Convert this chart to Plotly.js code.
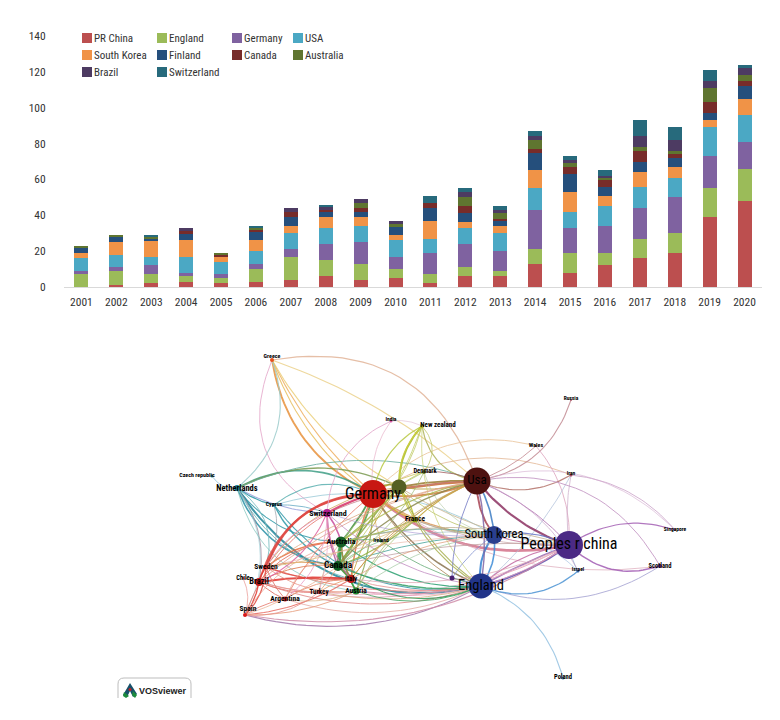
<!DOCTYPE html>
<html>
<head>
<meta charset="utf-8">
<script src="https://cdn.plot.ly/plotly-3.0.1.min.js"></script>
<style>html,body{margin:0;padding:0;background:#fff}#chart{width:780px;height:720px}</style>
</head>
<body>
<div id="chart"></div>
<script>
// ---------- bar chart data ----------
const years = ["2001","2002","2003","2004","2005","2006","2007","2008","2009","2010","2011","2012","2013","2014","2015","2016","2017","2018","2019","2020"];
const prChina     = [0,1,2,3,2,3,4,6,4,5,2,6,6,13,8,12,16,19,39,48];
const england     = [7,8,5,3,3,7,13,9,9,5,5,5,3,8,11,7,11,11,16,18];
const germany     = [2,2,5,2,2,3,4,9,12,7,12,13,11,22,14,15,17,20,18,15];
const usa         = [7,7,5,9,7,7,9,9,9,9,8,9,10,12,9,11,12,11,16,15];
const southKorea  = [3,7,9,9,3,6,4,6,5,3,10,3,4,10,11,6,8,6,4,9];
const finland     = [3,3,1,4,0,5,5,3,3,5,7,5,3,10,10,5,6,5,4,7];
const canada      = [0,0,0,1,1,1,3,1,2,0,3,4,1,2,4,4,6,2,6,3];
const australia   = [1,1,1,0,1,1,0,0,3,1,0,5,3,5,2,1,2,2,8,3];
const brazil      = [0,0,0,2,0,0,2,2,2,2,0,3,2,2,2,1,6,6,4,4];
const switzerland = [0,0,1,0,0,1,0,1,0,0,4,2,2,3,2,3,9,7,6,2];
const seriesNames = ["PR China","England","Germany","USA","South Korea","Finland","Canada","Australia","Brazil","Switzerland"];
const seriesValues = [prChina,england,germany,usa,southKorea,finland,canada,australia,brazil,switzerland];
const seriesColors = ["#BC4F4F","#9BBB59","#7F62A0","#4BA8C4","#F09347","#254F7C","#772C2A","#5F7530","#4D3B62","#276A7C"];

// ---------- legend placement (row-wise, four unequal columns) ----------
const legendSwatchX = [82,157,232,293,82,157,232,293,82,157];
const legendRowY = [38,38,38,38,55,55,55,55,72,72];

// ---------- network data ----------
const nodeNames = ["Greece","India","New zealand","Denmark","Czech republic","Netherlands","Cyprus","Switzerland","Germany","","France","Usa","South korea","Peoples r china","England","Russia","Wales","Iran","Singapore","Scotland","Israel","","Poland","Australia","Ireland","Canada","Italy","Austria","Sweden","Chile","Brazil","Argentina","Turkey","Spain"];
const nodeKeys  = ["GR","IN","NZ","DK","CZ","NL","CY","CH","DE","OL","FR","US","KR","CN","EN","RU","WA","IR","SG","SC","IL","SM","PL","AU","IE","CA","IT","AT","SE","CL","BR","AR","TR","ES"];
const nodeX     = [272,391,422,424,212,237,274,327,373,399,415,477,494,569,481,571,536,571,675,660,578,452,563,341,381,338,351,356,266,243,259,285,319,245];
const nodeY     = [360,421,426,472,476,488,505,513,494,487,520,481,535,545,586,400,446,475,530,566,571,578,678,542,541,566,579,591,567,578,582,599,592,615];
const nodeSize  = [4,3,4,4,3,6,4,8,28,15,5,27,18,28,25,2,2,3,2,4,3,5,3,11,3,10,8,7,5,2,8,5,4,4];
const nodeColor = ["#e8501a","#d85aa8","#a8b020","#6a7a20","#3a9aa5","#1a7f95","#2a8fa0","#b01f8f","#c81812","#545f22","#8a9a10","#4e1210","#2a3f8f","#4b2a85","#22358a","#b06070","#a05060","#a04a60","#8a50a0","#6a2a90","#3060a0","#4b2070","#4080c0","#145f25","#2a8a40","#0f5a22","#c01818","#208a30","#d82020","#d03030","#c01818","#d02020","#c83030","#d81818"];
const labelX    = [272,391,438,425,197,237,274,328,373,null,415,477,494,569,481,571,536,571,675,660,578,null,563,341,381,338,351,356,266,243,259,285,319,248];
const labelY    = [356,420,425,471,475,489,504,514,495,null,519,481,535,545,586,399,445,474,530,566,570,null,677,542,541,566,579,591,567,578,582,599,592,609];
const labelSize = [6,5.5,7,6.5,6,8.5,6,8,16,0,7.5,13,12.5,16,14.5,5.5,6,5.5,5.5,6.5,5.5,0,6.5,8,5.5,9.5,7,7.5,7.5,6.5,8.5,7.5,7,7.5];
const labelWeight = [700,700,700,700,700,700,700,700,400,400,700,400,400,400,400,700,700,700,700,700,700,400,700,700,700,700,700,700,700,700,700,700,700,700];

// edges: from, to, bend, colour, width
const edges = [
["GR","US",.42,"#e2b498",1.2],["GR","DE",-.26,"#e8913a",1.9],["GR","DE",-.1,"#efb060",1.1],["GR","OL",-.14,"#ecd07a",1.1],["GR","US",.1,"#ecd28c",1.1],["GR","FR",-.2,"#e8c060",1.1],["GR","CH",-.45,"#e6aacc",1],["GR","NL",.35,"#9ccccc",1.1],
["NL","DE",.3,"#3f9e86",1.7],["NL","OL",.24,"#7a9a50",1.4],["NL","US",.2,"#6ab0a0",1],["NL","CH",-.12,"#9aa0dc",1.1],["NL","CZ",.3,"#9cc8de",1],["NL","CY",-.1,"#2a9aa8",1.2],["NL","AU",-.24,"#2f9aa8",1.1],["NL","CA",-.3,"#2a92a8",1.6],["NL","EN",-.34,"#20869a",2],["NL","BR",.22,"#ac96a6",1.1],["NL","SE",.35,"#78bcc0",1],["NL","IT",-.22,"#4aa8a8",.8],["NL","ES",.3,"#a0d0d8",.8],["NL","AT",-.34,"#7ac0b8",.8],
["CY","DE",.3,"#5ab0b0",1.1],["CY","CA",-.18,"#2d9aa8",1.4],["CY","EN",-.3,"#3098a8",1.1],["CY","SE",.2,"#a0a8b0",.9],["CY","CH",.1,"#70b0c8",1],["CY","KR",.22,"#88c0d0",.8],
["DE","SE",-.34,"#dc3a34",2.3],["DE","BR",-.36,"#e04a44",1.8],["DE","ES",-.25,"#e87a72",1],["DE","CH",-.06,"#d83a70",2.2],["DE","IT",-.08,"#e86a40",1.4],["DE","CA",.12,"#50a048",1.8],["DE","AU",.05,"#3d8e40",1.8],["DE","AT",.1,"#8aa850",1.2],["DE","AR",-.1,"#ec8070",1],["DE","TR",.1,"#e8a070",.9],["DE","CN",-.25,"#d4728a",2.8],["DE","US",.04,"#c86a30",2.6],["DE","US",-.14,"#d07a38",1.9],["DE","KR",-.16,"#d89a58",1.2],["DE","EN",-.16,"#8a7450",1.5],["DE","WA",.3,"#ecc8a0",1],["DE","IR",.26,"#e6bc9c",1],["DE","SC",-.2,"#dca6b8",.8],["DE","NZ",.24,"#b8c840",1.2],["DE","DK",.1,"#d0c860",1],["DE","FR",-.1,"#d8b020",1.2],["DE","IE",-.1,"#e0b070",.9],["DE","OL",.4,"#a09020",1.4],
["OL","NZ",.2,"#a8bc20",2],["OL","US",.06,"#9a7a30",1.8],["OL","US",-.12,"#b8a040",1.1],["OL","DK",.1,"#c0c850",.9],["OL","FR",.12,"#b8c020",1.2],["OL","KR",-.15,"#c0c870",1],["OL","EN",-.14,"#a8b050",1.1],["OL","CA",-.05,"#90a840",1.4],["OL","AU",.05,"#98b040",1.2],["OL","IT",-.1,"#c8a840",1],["OL","CN",-.12,"#c8b088",.9],["OL","SE",-.22,"#d0a050",.9],
["NZ","US",-.35,"#b0b45c",1.2],["NZ","FR",-.4,"#d0d040",1.1],["NZ","DK",.4,"#c0c868",.9],["NZ","AU",.18,"#c0c860",.9],["NZ","EN",-.22,"#c8d070",.8],["NZ","CA",.1,"#b8c850",.8],
["IN","CH",-.3,"#e4a8cc",1],["IN","NZ",.15,"#e0b8d0",.7],["IN","DE",-.2,"#e8b0c8",.8],
["DK","US",.12,"#a05858",.9],["DK","AU",-.12,"#b0c878",.9],["DK","CA",.15,"#a0c078",.9],["DK","KR",-.3,"#b0c8a0",.7],
["RU","US",.3,"#c28a92",1.1],["WA","US",.1,"#c89098",1],["WA","CN",.2,"#e0aac2",1],["IR","US",.25,"#b4736a",1.2],["IR","EN",.1,"#b4c4dc",.9],["IR","SG",.2,"#cea8cc",1],["IR","CN",-.08,"#caa8c8",.8],["US","SC",.35,"#c496c4",1],["US","SG",.3,"#d4acd0",.7],
["CN","SG",.25,"#a460b4",1.2],["CN","SC",-.3,"#a25cb4",1.5],["CN","IL",-.1,"#90b8d8",.9],["EN","SC",-.25,"#a8a6d4",1],["EN","IL",-.3,"#4c94d4",1.3],["EN","PL",.25,"#94c2e2",1.1],["EN","CN",-.1,"#5a50b0",2.2],["EN","CN",.04,"#9264b4",1.5],["EN","CN",.16,"#c46aa2",1.2],["EN","KR",.22,"#3482d2",2],["EN","KR",-.2,"#3e8cd8",1.6],["US","KR",-.18,"#a84454",1.9],["US","KR",.12,"#3c7cc4",1.6],["US","CN",-.15,"#8c3262",2.1],["US","CN",.12,"#b476b4",1],["US","EN",.1,"#8064a4",1.4],["US","IL",.2,"#c8a0c8",.8],["KR","CN",.16,"#6474c4",1.2],["KR","CN",-.1,"#c4749c",1.1],["KR","IL",.2,"#9abce0",.7],
["SM","EN",.04,"#5060b0",.9],["SM","US",.12,"#7a80c8",1],["SM","DE",.12,"#a88050",.9],["SM","KR",.1,"#8090d0",.9],
["ES","EN",-.2,"#a47aac",1.2],["ES","CN",-.2,"#d08ca8",1.1],["BR","EN",-.18,"#e08a8a",1],["BR","CN",-.2,"#e8a0b4",1],["IT","EN",-.12,"#e89898",1],["AT","CN",-.2,"#e8a0c0",.9],["AT","EN",-.08,"#d890a8",1],["AR","EN",-.2,"#e4a8a0",.9],["SE","EN",-.12,"#e88880",1],["TR","EN",-.12,"#d8a880",.9],["TR","CN",-.15,"#e8b0c0",.8],
["CA","EN",-.14,"#35a068",1.5],["CA","EN",-.3,"#2f9a5a",1.1],["AT","EN",-.2,"#48a868",1],["AU","EN",-.2,"#2aa070",1.2],["AT","US",.2,"#a8bc70",.9],["CA","US",.16,"#8a8a50",1.3],["AU","US",.12,"#b0b850",1.1],["CA","KR",.08,"#50a8a0",1],["AU","KR",.12,"#60b0a8",1],["AU","CN",.14,"#c0b090",.9],["CA","CN",.08,"#c0a0a0",.9],["IE","EN",-.1,"#60a870",.9],["IE","US",.1,"#c0a060",.8],["IE","KR",.1,"#90b8c0",.7],
["AU","CA",.05,"#1e8a36",3.5],["AU","CA",-.14,"#4aa858",1.4],["AU","AT",-.12,"#38a048",1.4],["CA","AT",.1,"#32a040",1.6],["CA","IT",.05,"#708840",1.4],["AU","IT",-.12,"#c08040",1.1],["AU","IE",.1,"#60b070",.9],["CA","IE",.1,"#70b878",.8],
["BR","ES",.12,"#e03830",1.3],["SE","ES",.2,"#e04a40",1.3],["BR","SE",.1,"#e03830",1.2],["BR","IT",.06,"#e0322c",2],["SE","IT",-.12,"#e05048",1.4],["SE","AU",.18,"#e86a3a",1.4],["SE","CA",.12,"#d8883a",1],["AR","ES",-.1,"#e88074",1],["AR","SE",.1,"#e07a70",1],["AR","BR",.1,"#e06a60",1],["AR","IT",.14,"#e89070",1],["TR","BR",.12,"#e4706a",1],["TR","IT",.1,"#e8a070",1],["ES","IT",-.12,"#e86a60",1.1],["ES","CA",-.08,"#e8a888",.8],["ES","AT",-.12,"#e8a080",1],["CL","BR",.1,"#e88080",.8],["CL","ES",.2,"#e8908c",.8],["AR","AT",-.15,"#d8b080",.8],["TR","AU",.15,"#d0b080",.8],["AR","AU",.2,"#e8b098",.8],
["ES","TR",-.2,"#e89088",.9],["SE","AT",-.2,"#e89080",.9],["BR","AT",-.1,"#e89a88",.9],["BR","CA",.16,"#e07a50",1],["BR","AU",.24,"#e87060",1],["ES","AU",.2,"#ec9a88",.8],
["CH","BR",.2,"#e060a0",1.1],["CH","CA",-.1,"#b05a9c",1.5],["CH","AU",.1,"#c84a9c",1.5],["CH","IT",-.18,"#e06aa0",1.1],["CH","AR",.25,"#ea9ac4",.9],["CH","SE",-.15,"#e880b8",.9],["CH","US",.1,"#c47884",.9],["CH","EN",-.16,"#c088c0",.9],["CH","TR",.1,"#e8a0c8",.7],["CH","KR",-.1,"#b0a0d8",.8],
["FR","US",.1,"#c0a030",1.1],["FR","EN",-.14,"#a8b050",1.1],["FR","CA",.1,"#90b040",1.2],["FR","AU",.05,"#a8b850",1.1],["FR","IT",-.1,"#d0a840",1],["FR","KR",-.1,"#a0b880",.9],["FR","SE",.1,"#e0c080",.9],["FR","CN",-.1,"#c8a0a0",.8],["FR","AT",-.1,"#a8c070",.8],
["AT","KR",.14,"#a0c8a0",.8],["IT","KR",.12,"#e0a080",.9],["IT","US",.14,"#d09a50",1],["IT","CN",-.15,"#e0a8b4",.9],["SE","US",.12,"#e0a880",.9],["BR","US",.14,"#e0a090",.9],["SE","KR",.05,"#e8b0a0",.7]
];

// ---------- helpers ----------
const idx = Object.fromEntries(nodeKeys.map((k,i)=>[k,i]));
function curve(a,b,bend){
  const x0=nodeX[idx[a]],y0=nodeY[idx[a]],x1=nodeX[idx[b]],y1=nodeY[idx[b]];
  const cx=(x0+x1)/2+bend*(y1-y0),cy=(y0+y1)/2-bend*(x1-x0);
  const xs=[],ys=[];
  for(let k=0;k<=24;k++){const t=k/24,u=1-t;
    xs.push(u*u*x0+2*u*t*cx+t*t*x1);ys.push(u*u*y0+2*u*t*cy+t*t*y1);}
  return {xs,ys};
}

const NARROW = '"Liberation Sans Narrow","Roboto Condensed","Liberation Sans",sans-serif';
const traces = [];
seriesNames.forEach((name,i)=>{
  traces.push({type:"bar",name,x:years,y:seriesValues[i],marker:{color:seriesColors[i]},
    xaxis:"x",yaxis:"y",showlegend:false,hoverinfo:"x+y+name"});
});
edges.forEach(e=>{
  const c=curve(e[0],e[1],e[2]);
  traces.push({type:"scatter",mode:"lines",x:c.xs,y:c.ys,xaxis:"x2",yaxis:"y2",showlegend:false,hoverinfo:"skip",
    opacity:.85,line:{color:e[3],width:e[4]}});
});
traces.push({type:"scatter",mode:"markers",x:nodeX,y:nodeY,xaxis:"x2",yaxis:"y2",showlegend:false,text:nodeNames,hoverinfo:"text",
  marker:{size:nodeSize,color:nodeColor,opacity:1,line:{width:0}}});
traces.push({type:"scatter",mode:"text",x:labelX,y:labelY,xaxis:"x2",yaxis:"y2",showlegend:false,hoverinfo:"skip",
  text:nodeNames,textposition:"middle center",
  textfont:{family:NARROW,color:"#000",size:labelSize,weight:labelWeight}});

const shapes=[],annotations=[];
seriesNames.forEach((name,i)=>{
  const x=legendSwatchX[i],y=legendRowY[i];
  shapes.push({type:"rect",xref:"x2",yref:"y2",x0:x,x1:x+10,y0:y-5,y1:y+5,fillcolor:seriesColors[i],line:{width:0}});
  annotations.push({xref:"x2",yref:"y2",x:x+10,y:y,text:name,showarrow:false,xanchor:"left",yanchor:"middle",
    font:{family:NARROW,size:11,color:"#333"}});
});
// VOSviewer badge
shapes.push({type:"path",xref:"x2",yref:"y2",path:"M118,698 V684 Q118,678 124,678 H185 Q191,678 191,684 V698",line:{color:"#bdbdbd",width:1}});
shapes.push({type:"path",xref:"x2",yref:"y2",path:"M130,683 L137,694 L133,697 L130,691 L127,697 L123,695 Z",fillcolor:"#17506a",line:{width:0}});
shapes.push({type:"path",xref:"x2",yref:"y2",path:"M124,692 L129,696 L126,698 L123,696 Z",fillcolor:"#1c8c3c",line:{width:0}});
shapes.push({type:"path",xref:"x2",yref:"y2",path:"M133,691 L137,695 L135,698 L132,695 Z",fillcolor:"#1c8c3c",line:{width:0}});
shapes.push({type:"circle",xref:"x2",yref:"y2",x0:128.5,x1:131.5,y0:688,y1:691,fillcolor:"#c82020",line:{width:0}});
annotations.push({xref:"x2",yref:"y2",x:137,y:691,text:"VOSviewer",showarrow:false,xanchor:"left",yanchor:"middle",
  font:{family:'"Liberation Sans",sans-serif',size:9,color:"#222",weight:700}});

const layout={
  width:780,height:720,margin:{l:0,r:0,t:0,b:0},paper_bgcolor:"#fff",plot_bgcolor:"rgba(0,0,0,0)",
  barmode:"stack",bargap:.6,showlegend:false,
  font:{family:NARROW,color:"#333",size:12},
  xaxis:{domain:[64/780,762/780],type:"category",anchor:"y",showgrid:false,zeroline:false,showline:true,linecolor:"#d9d9d9",linewidth:1,
    ticks:"outside",ticklen:4,tickcolor:"rgba(0,0,0,0)",tickfont:{family:NARROW,size:11.5,color:"#333"},fixedrange:true,tickangle:0},
  yaxis:{domain:[(720-287)/720,(720-36)/720],range:[0,140],tickvals:[0,20,40,60,80,100,120,140],anchor:"x",showgrid:false,zeroline:false,showline:false,
    ticks:"outside",ticklen:15,tickcolor:"rgba(0,0,0,0)",tickfont:{family:NARROW,size:11.5,color:"#333"},fixedrange:true},
  xaxis2:{domain:[0,1],range:[0,780],anchor:"y2",visible:false,fixedrange:true},
  yaxis2:{domain:[0,1],range:[720,0],anchor:"x2",visible:false,fixedrange:true},
  shapes,annotations
};
Plotly.newPlot("chart",traces,layout,{displayModeBar:false,responsive:false});
</script>
</body>
</html>
